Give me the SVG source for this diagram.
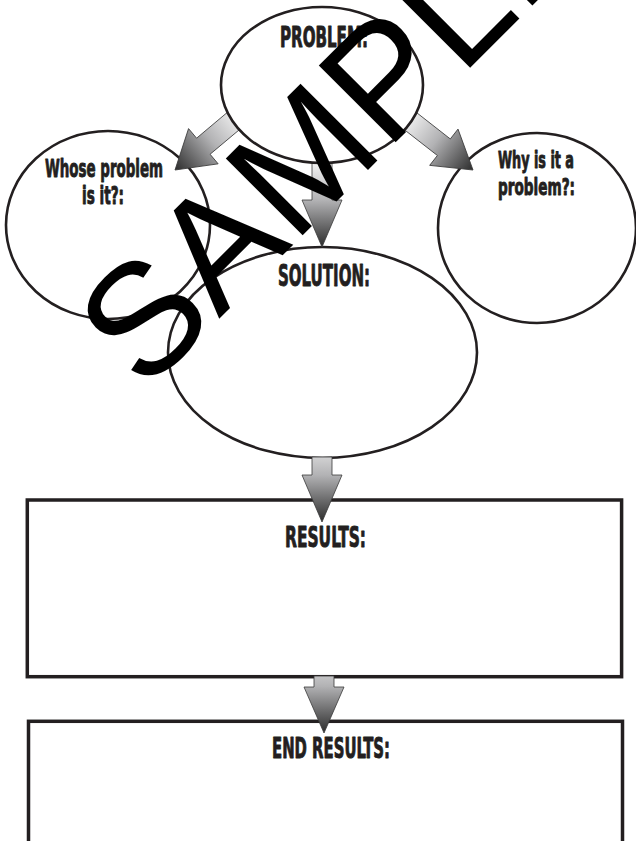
<svg xmlns="http://www.w3.org/2000/svg" width="636" height="841" viewBox="0 0 636 841">
  <style>
    .shape { fill: none; stroke: #231f20; stroke-width: 2.6; }
    .box { fill: none; stroke: #231f20; stroke-width: 3.5; }
    .lbl { font-family: 'Liberation Sans Narrow', 'DejaVu Sans Condensed', 'Liberation Sans', sans-serif; font-weight: bold; fill: #231f20; stroke: #231f20; stroke-width: 0.9; stroke-linejoin: round; text-anchor: middle; }
    .arrow { fill: url(#arrowGrad); stroke: #3a3a3a; stroke-width: 0.8; stroke-linejoin: miter; }
    .wm { font-family: 'Liberation Sans', Arial, sans-serif; font-size: 158px; fill: #000; }
  </style>
  <defs>
    <linearGradient id="arrowGrad" gradientUnits="userSpaceOnUse" x1="-85" y1="0" x2="0" y2="0">
      <stop offset="0" stop-color="#f4f4f4"/>
      <stop offset="0.45" stop-color="#b2b2b4"/>
      <stop offset="1" stop-color="#2c2c2c"/>
    </linearGradient>
  </defs>

  <rect width="636" height="841" fill="#ffffff"/>

  <g id="whose">
    <ellipse class="shape" cx="108" cy="225" rx="102" ry="94"/>
    <text class="lbl" x="104" y="177" font-size="25" textLength="118" lengthAdjust="spacingAndGlyphs">Whose problem</text>
    <text class="lbl" x="103" y="204" font-size="25" textLength="42" lengthAdjust="spacingAndGlyphs">is it?:</text>
  </g>

  <g id="why">
    <ellipse class="shape" cx="537" cy="228" rx="99" ry="95"/>
    <text class="lbl" x="536" y="168" font-size="23" textLength="76" lengthAdjust="spacingAndGlyphs">Why is it a</text>
    <text class="lbl" x="536.5" y="195" font-size="23" textLength="77" lengthAdjust="spacingAndGlyphs">problem?:</text>
  </g>

  <g id="solution">
    <ellipse class="shape" cx="322.5" cy="352.5" rx="154.5" ry="105.5"/>
    <text class="lbl" x="324" y="286" font-size="31" textLength="92" lengthAdjust="spacingAndGlyphs">SOLUTION:</text>
  </g>

  <g id="results">
    <rect class="box" x="27.3" y="500" width="594.3" height="176.7"/>
    <text class="lbl" x="325.5" y="547" font-size="28.5" textLength="81" lengthAdjust="spacingAndGlyphs">RESULTS:</text>
  </g>

  <g id="end-results">
    <rect class="box" x="28.5" y="721.3" width="594" height="160"/>
    <text class="lbl" x="331" y="758" font-size="27.5" textLength="118" lengthAdjust="spacingAndGlyphs">END RESULTS:</text>
  </g>

  <g id="connectors">
    <polygon class="arrow" transform="translate(175,170) rotate(140)" points="0,0 -37,-23 -37,-10.5 -95,-10.5 -95,10.5 -37,10.5 -37,23"/>
    <polygon class="arrow" transform="translate(473,170) rotate(38)" points="0,0 -37,-23 -37,-10.5 -95,-10.5 -95,10.5 -37,10.5 -37,23"/>
    <polygon class="arrow" transform="translate(322,247) rotate(90)" points="0,0 -47,-20 -47,-10 -120,-10 -120,10 -47,10 -47,20"/>
    <polygon class="arrow" transform="translate(322,522) rotate(90)" points="0,0 -47,-20 -47,-10 -65,-10 -65,10 -47,10 -47,20"/>
    <polygon class="arrow" transform="translate(324,733) rotate(90)" points="0,0 -46,-20 -46,-10 -57,-10 -57,10 -46,10 -46,20"/>
  </g>

  <g id="problem">
    <ellipse class="shape" cx="322" cy="85" rx="101" ry="78" style="fill:#ffffff"/>
    <text class="lbl" x="324" y="47" font-size="27.5" textLength="88" lengthAdjust="spacingAndGlyphs">PROBLEM:</text>
  </g>

  <g id="watermark">
    <text class="wm" transform="translate(144.5,393.5) rotate(-45)">SAMPLE</text>
  </g>
</svg>
